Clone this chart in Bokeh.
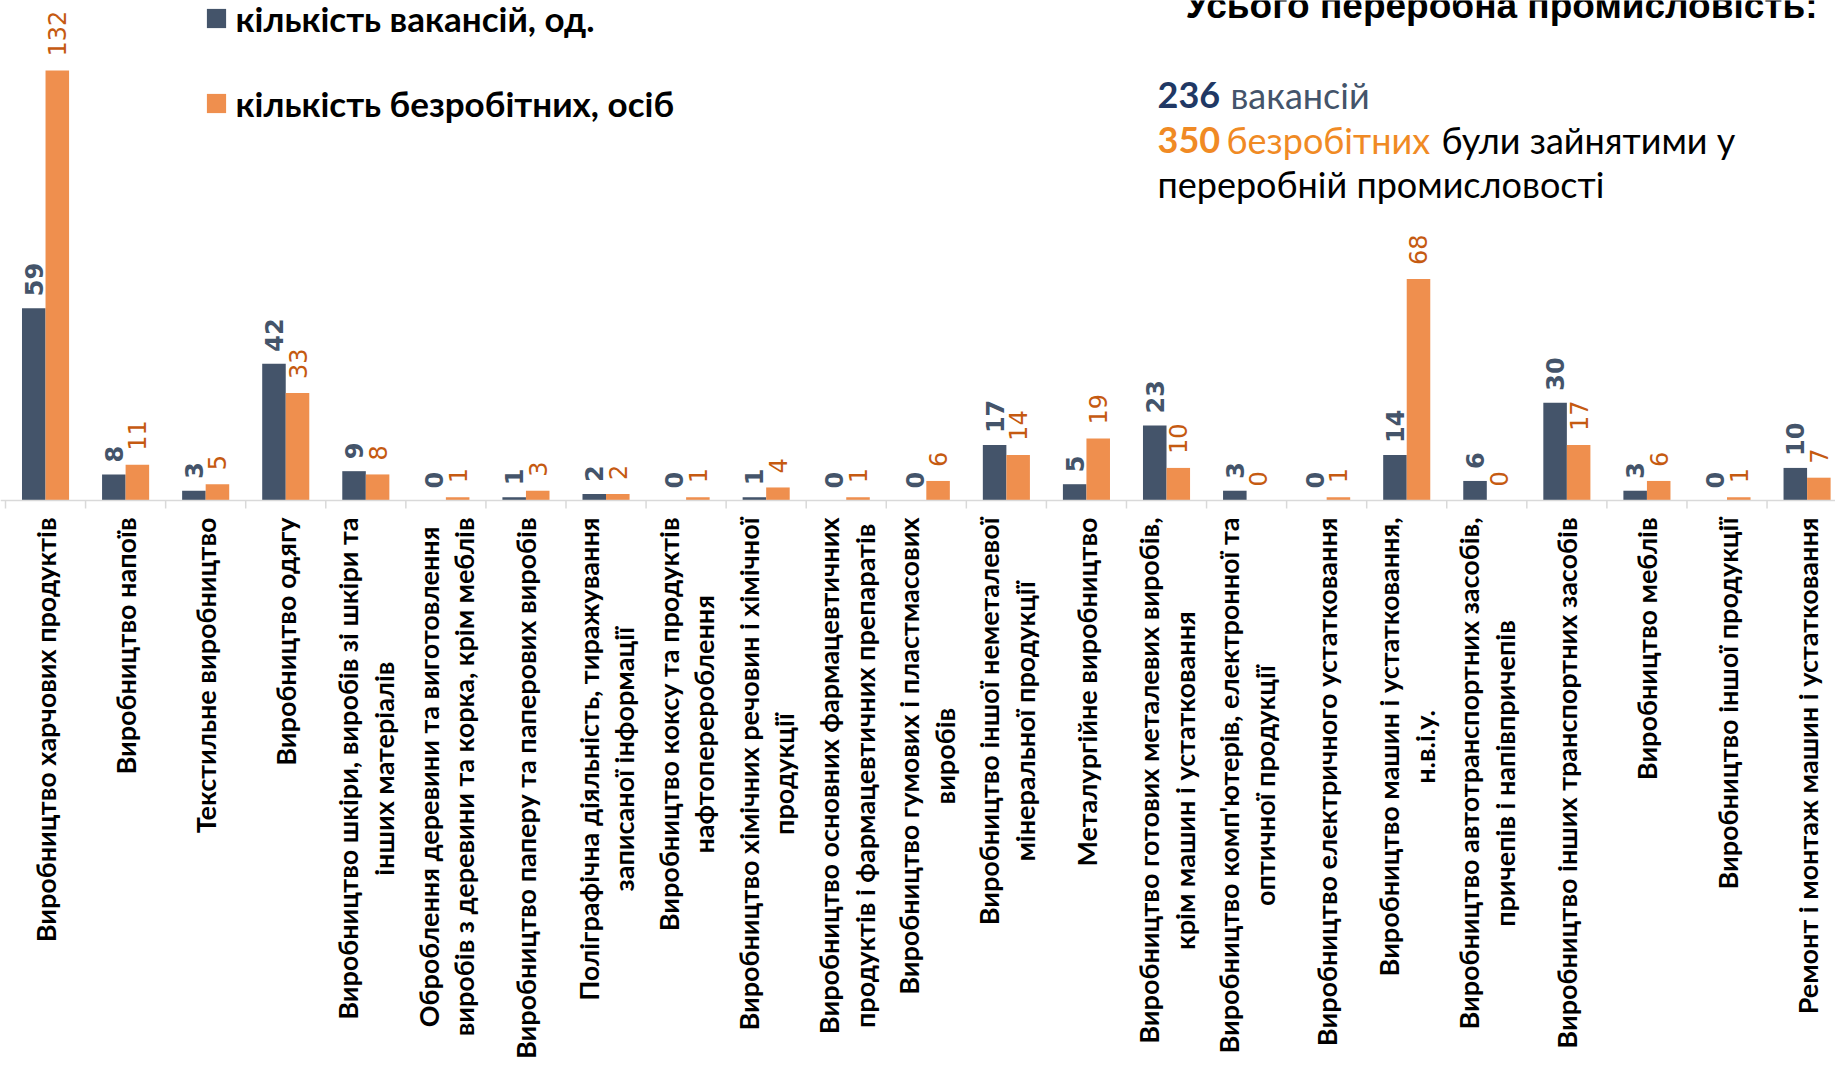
import math
from bokeh.plotting import figure
from bokeh.models import Range1d, Span, Legend, LegendItem, Label, ColumnDataSource
from bokeh.core.properties import value
from bokeh.embed import file_html
from bokeh.resources import INLINE

# ---------------- data ----------------
categories = [
    "Виробництво харчових продуктів",
    "Виробництво напоїв",
    "Текстильне виробництво",
    "Виробництво одягу",
    "Виробництво шкіри, виробів зі шкіри та\nінших матеріалів",
    "Оброблення деревини та виготовлення\nвиробів з деревини та корка, крім меблів",
    "Виробництво паперу та паперових виробів",
    "Поліграфічна діяльність, тиражування\nзаписаної інформації",
    "Виробництво коксу та продуктів\nнафтоперероблення",
    "Виробництво хімічних речовин і хімічної\nпродукції",
    "Виробництво основних фармацевтичних\nпродуктів і фармацевтичних препаратів",
    "Виробництво гумових і пластмасових\nвиробів",
    "Виробництво іншої неметалевої\nмінеральної продукції",
    "Металургійне виробництво",
    "Виробництво готових металевих виробів,\nкрім машин і устатковання",
    "Виробництво комп'ютерів, електронної та\nоптичної продукції",
    "Виробництво електричного устатковання",
    "Виробництво машин і устатковання,\nн.в.і.у.",
    "Виробництво автотранспортних засобів,\nпричепів і напівпричепів",
    "Виробництво інших транспортних засобів",
    "Виробництво меблів",
    "Виробництво іншої продукції",
    "Ремонт і монтаж машин і устатковання",
]
vacancies = [59, 8, 3, 42, 9, 0, 1, 2, 0, 1, 0, 0, 17, 5, 23, 3, 0, 14, 6, 30, 3, 0, 10]
unemployed = [132, 11, 5, 33, 8, 1, 3, 2, 1, 4, 1, 6, 14, 19, 10, 0, 1, 68, 0, 17, 6, 1, 7]
series_names = ["кількість вакансій, од.", "кількість безробітних, осіб"]
title_text = "Усього переробна промисловість:"
total_vacancies = "236"
total_unemployed = "350"

# ---------------- layout constants ----------------
W, H = 1835, 1064
CAT_PX = 80.07          # px per category
FIRST_EDGE = 5          # canvas x of the first category boundary
BASE_Y = 500            # canvas y of the zero line
PX_PER_UNIT = 3.258
BW = 0.294
LBL_SHIFT = 12          # Label alphabetic-baseline correction

DARK = "#44546A"
ORANGE = "#EF8F4E"
DARK_LBL = "#44546A"
ORANGE_LBL = "#C55A11"
HUM = "Lato"

x0 = -FIRST_EDGE / CAT_PX
x1 = x0 + W / CAT_PX
y1 = BASE_Y / PX_PER_UNIT
y0 = y1 - H / PX_PER_UNIT


def sy(canvas_y):
    return H - canvas_y


def dy(canvas_y):
    return (BASE_Y - canvas_y) / PX_PER_UNIT


n = len(categories)
centers = [i + 0.5 for i in range(n)]
src = ColumnDataSource(dict(
    xc=centers,
    xd=[c - BW / 2 for c in centers],
    xo=[c + BW / 2 for c in centers],
    vac=vacancies,
    une=unemployed,
    vac_txt=[str(v) for v in vacancies],
    une_txt=[str(v) for v in unemployed],
    label=categories,
    ly=[dy(517)] * n,
))

p = figure(width=W, height=H, x_range=Range1d(x0, x1), y_range=Range1d(y0, y1),
           output_backend="svg", toolbar_location=None,
           x_axis_location=None, y_axis_location=None, min_border=0)
p.grid.visible = False
p.outline_line_color = None
p.background_fill_color = "white"

r1 = p.vbar(x="xd", top="vac", width=BW, source=src, fill_color=DARK, line_color=None)
r2 = p.vbar(x="xo", top="une", width=BW, source=src, fill_color=ORANGE, line_color=None)

# axis line and category-boundary ticks
p.add_layout(Span(location=0, dimension="width", line_color="#D9D9D9", line_width=1.5))
edges = list(range(n + 1))
p.segment(x0=edges, y0=[0] * len(edges), x1=edges, y1=[-8 / PX_PER_UNIT] * len(edges),
          line_color="#D9D9D9", line_width=1.5)

# data labels
p.text(x="xd", y="vac", text="vac_txt", source=src, angle=math.pi / 2,
       text_align="left", text_baseline="middle", y_offset=-12,
       text_font=value("DejaVu Sans"), text_font_size="24px", text_font_style="bold",
       text_color=DARK_LBL)
p.text(x="xo", y="une", text="une_txt", source=src, angle=math.pi / 2,
       text_align="left", text_baseline="middle", y_offset=-14,
       text_font=value("DejaVu Sans"), text_font_size="24px",
       text_color=ORANGE_LBL)

# category labels
p.text(x="xc", y="ly", text="label", source=src, angle=math.pi / 2,
       anchor="center_right", text_align="center",
       text_font=value(HUM), text_font_size="27px", text_font_style="bold",
       text_line_height=1.08, text_color="black")

# legend
legend = Legend(items=[LegendItem(label=series_names[0], renderers=[r1]),
                       LegendItem(label=series_names[1], renderers=[r2])],
                location=(203.6, sy(125)),
                glyph_width=24, glyph_height=24, label_standoff=8,
                label_height=45, spacing=40, padding=0, margin=0,
                border_line_color=None, background_fill_alpha=0,
                label_text_font=HUM, label_text_font_style="bold",
                label_text_font_size="35px", label_text_color="black")
p.add_layout(legend)


# summary text block
def add_label(txt, cx, cy, color="black", bold=False, size="36px", font=HUM, align="left"):
    p.add_layout(Label(x=cx, y=sy(cy - LBL_SHIFT), x_units="screen", y_units="screen", text=txt,
                       text_align=align, text_baseline="alphabetic", text_font=font,
                       text_font_size=size, text_font_style="bold" if bold else "normal",
                       text_color=color))


add_label(title_text, 1817, 17, bold=True, font="Liberation Sans", size="37px", align="right")
add_label(total_vacancies, 1157, 106, color="#203864", bold=True)
add_label("вакансій", 1230, 106, color="#44546A")
add_label(total_unemployed, 1157, 151, color="#F08A24", bold=True)
add_label("безробітних", 1226, 151, color="#F08A24")
add_label("були  зайнятими  у", 1441, 151)
add_label("переробній промисловості", 1157, 195)

open("out.html", "w").write(file_html(p, INLINE))
